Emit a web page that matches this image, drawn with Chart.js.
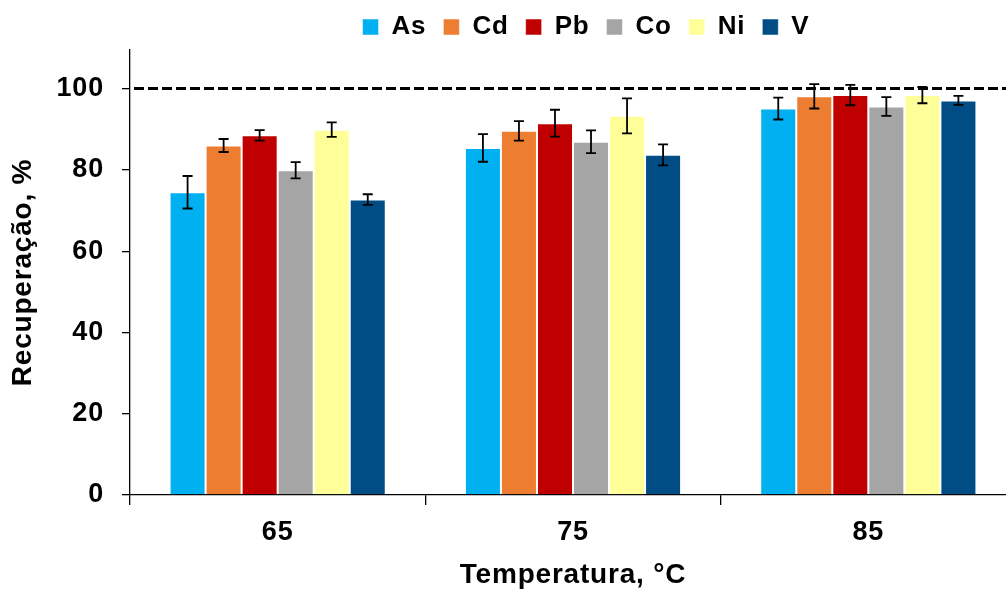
<!DOCTYPE html>
<html>
<head>
<meta charset="utf-8">
<title>Recuperação por temperatura</title>
<script src="https://cdn.jsdelivr.net/npm/chart.js"></script>
<style>
  html, body { margin: 0; padding: 0; background: #fff; overflow: hidden; }
  #grafico { display: block; margin-top: -5px; }
</style>
</head>
<body>
<canvas id="grafico" width="1172" height="594"></canvas>
<script>
// Temperaturas de extração (°C) e elementos analisados
const temperaturas = ['65', '75', '85'];
const elementos = ['As', 'Cd', 'Pb', 'Co', 'Ni', 'V'];
const cores = ['#00B0F0', '#ED7D31', '#C00000', '#A5A5A5', '#FFFF99', '#004D86'];

// Recuperação média (%) em 65, 75 e 85 °C
const recAs = [74.5, 85.4, 95.1];
const recCd = [86.0, 89.6, 98.1];
const recPb = [88.5, 91.5, 98.4];
const recCo = [79.9, 86.9, 95.6];
const recNi = [89.9, 93.3, 98.4];
const recV  = [72.7, 83.7, 97.1];

// Desvio padrão (%) de cada média
const dpAs = [4.0, 3.4, 2.7];
const dpCd = [1.6, 2.4, 3.0];
const dpPb = [1.3, 3.3, 2.5];
const dpCo = [2.0, 2.8, 2.3];
const dpNi = [1.8, 4.3, 2.0];
const dpV  = [1.3, 2.6, 1.1];

const ticksY = [0, 20, 40, 60, 80, 100];
const referencia = 100;

const recuperacoes = [recAs, recCd, recPb, recCo, recNi, recV];
const desvios = [dpAs, dpCd, dpPb, dpCo, dpNi, dpV];

const familia = "'Liberation Sans', Arial, sans-serif";
const fonteTicks = { family: familia, weight: 'bold', size: 27 };
const fonteTitulo = { family: familia, weight: 'bold', size: 28 };

// Espaçamento entre letras do texto no canvas
const espacamento = {
  id: 'espacamento',
  beforeUpdate(chart) { chart.ctx.letterSpacing = '0.8px'; },
  beforeDraw(chart) { chart.ctx.letterSpacing = '0.8px'; }
};

// Linha tracejada em 100 %
const linhaReferencia = {
  id: 'linhaReferencia',
  afterDatasetsDraw(chart) {
    const { ctx, chartArea } = chart;
    const y = chart.scales.y.getPixelForValue(referencia);
    ctx.save();
    ctx.strokeStyle = '#000';
    ctx.lineWidth = 3;
    ctx.setLineDash([10, 4]);
    ctx.beginPath();
    ctx.moveTo(chartArea.left + 4, y);
    ctx.lineTo(chartArea.right, y);
    ctx.stroke();
    ctx.restore();
  }
};

// Barras de erro (± desvio padrão)
const barrasErro = {
  id: 'barrasErro',
  afterDatasetsDraw(chart) {
    const ctx = chart.ctx;
    const escala = chart.scales.y;
    ctx.save();
    ctx.strokeStyle = '#000';
    ctx.lineWidth = 1.8;
    chart.data.datasets.forEach((ds, i) => {
      chart.getDatasetMeta(i).data.forEach((barra, j) => {
        const v = ds.data[j], e = ds.erro[j];
        const yAlto = escala.getPixelForValue(v + e);
        const yBaixo = escala.getPixelForValue(v - e);
        ctx.beginPath();
        ctx.moveTo(barra.x, yAlto);
        ctx.lineTo(barra.x, yBaixo);
        ctx.moveTo(barra.x - 5, yAlto);
        ctx.lineTo(barra.x + 5, yAlto);
        ctx.moveTo(barra.x - 5, yBaixo);
        ctx.lineTo(barra.x + 5, yBaixo);
        ctx.stroke();
      });
    });
    ctx.restore();
  }
};

new Chart(document.getElementById('grafico'), {
  type: 'bar',
  data: {
    labels: temperaturas,
    datasets: elementos.map((nome, i) => ({
      label: nome,
      data: recuperacoes[i],
      erro: desvios[i],
      backgroundColor: cores[i],
      borderColor: 'rgba(255, 255, 255, 0.5)',
      borderWidth: 1,
      categoryPercentage: 0.732,
      barPercentage: 1
    }))
  },
  options: {
    responsive: false,
    animation: false,
    devicePixelRatio: 1,
    layout: { padding: { top: 2 } },
    plugins: {
      legend: {
        position: 'top',
        labels: {
          color: '#000',
          font: { family: familia, weight: 'bold', size: 26 },
          boxWidth: 16,
          boxHeight: 16,
          padding: 17
        }
      },
      tooltip: { enabled: false }
    },
    scales: {
      x: {
        grid: {
          offset: true,
          drawOnChartArea: false,
          tickLength: 10,
          color: '#000',
          lineWidth: 1.3
        },
        border: { color: '#000', width: 1.3 },
        ticks: { color: '#000', font: fonteTicks, padding: 11 },
        title: {
          display: true,
          text: 'Temperatura, °C',
          color: '#000',
          font: fonteTitulo,
          padding: { top: 0, bottom: -3 }
        },
        afterFit(s) { s.height = 94; }
      },
      y: {
        min: 0,
        max: 109.5,
        grid: {
          drawOnChartArea: false,
          tickLength: 8,
          color: '#000',
          lineWidth: 1.3
        },
        border: { color: '#000', width: 1.3 },
        ticks: { color: '#000', font: fonteTicks, padding: 18 },
        title: {
          display: true,
          text: 'Recuperação, %',
          color: '#000',
          font: fonteTitulo,
          padding: { top: 6, bottom: 0 }
        },
        afterBuildTicks(s) { s.ticks = ticksY.map(v => ({ value: v })); },
        afterFit(s) { s.width = 130; }
      },
      // eixo vazio à direita, só para reservar espaço
      y2: {
        position: 'right',
        grid: { display: false },
        ticks: { display: false },
        border: { display: false },
        afterFit(s) { s.width = 156; }
      }
    }
  },
  plugins: [espacamento, linhaReferencia, barrasErro]
});
</script>
</body>
</html>
